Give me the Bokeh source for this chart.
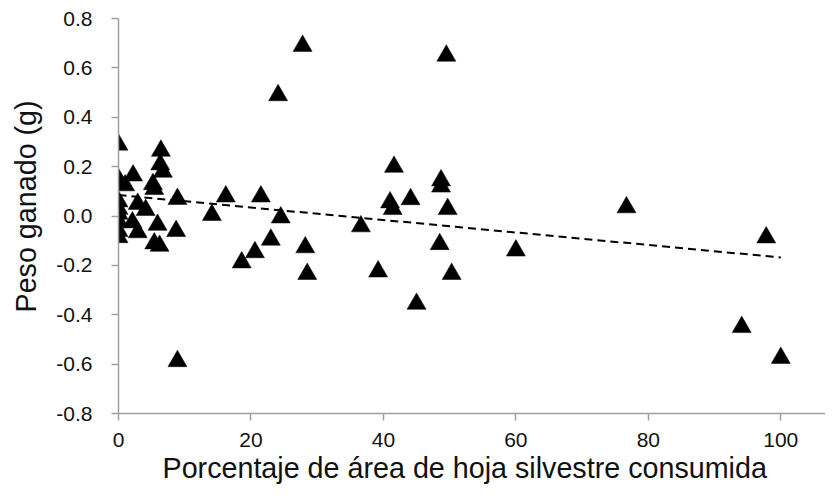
from bokeh.plotting import figure
from bokeh.models import Range1d, FixedTicker, NumeralTickFormatter, ColumnDataSource, Title
from bokeh.transform import dodge
from bokeh.embed import file_html
from bokeh.resources import INLINE

# Percentage of wild leaf area consumed
pct_consumed = [
    0.0, 0.0, 0.3, 0.0, 0.0, 0.0, 0.0, 0.0, 0.0,
    2.2, 1.0, 2.9, 4.1, 2.1, 2.9,
    5.2, 5.4, 6.4, 6.3, 6.7, 5.9, 5.4, 6.2,
    8.9, 8.7, 8.9,
    14.1, 16.2, 18.6, 20.6, 21.5, 23.0, 24.1, 24.5,
    27.8, 28.2, 28.5, 36.6, 39.2, 41.0, 41.4, 41.6,
    44.1, 45.0, 48.5, 48.7, 48.7, 49.5, 49.7, 50.3,
    60.0, 76.7, 94.1, 97.8, 100.0,
]
# Weight gained (g)
weight_gain = [
    0.30, 0.16, 0.14, 0.07, 0.04, 0.02, -0.01, -0.05, -0.075,
    0.175, 0.135, 0.06, 0.035, -0.015, -0.055,
    0.14, 0.12, 0.275, 0.22, 0.19, -0.025, -0.10, -0.11,
    0.08, -0.05, -0.577,
    0.015, 0.09, -0.177, -0.136, 0.09, -0.085, 0.50, 0.005,
    0.70, -0.116, -0.224, -0.031, -0.214, 0.066, 0.039, 0.21,
    0.079, -0.345, -0.103, 0.155, 0.13, 0.66, 0.039, -0.224,
    -0.129, 0.046, -0.439, -0.076, -0.564,
]
# Linear trend line
trend_x = [0, 100]
trend_y = [0.085, -0.168]

x_ticks = [0, 20, 40, 60, 80, 100]
y_ticks = [-0.8, -0.6, -0.4, -0.2, 0.0, 0.2, 0.4, 0.6, 0.8]

x_title = "Porcentaje de área de hoja silvestre consumida"
y_title = "Peso ganado (g)"

FONT = "Liberation Sans"
AXIS_COLOR = "#a0a0a0"
TEXT_COLOR = "#111111"

src = ColumnDataSource(data=dict(x=pct_consumed, y=weight_gain))

p = figure(
    width=825, height=488,
    output_backend="svg", toolbar_location=None,
    x_range=Range1d(0, 106.75), y_range=Range1d(-0.8, 0.8),
    min_border_left=118, min_border_right=0,
    min_border_top=18, min_border_bottom=75,
)
p.outline_line_color = None
p.grid.visible = False
p.background_fill_color = "white"
p.border_fill_color = "white"

p.line(trend_x, trend_y, line_color="black", line_width=2, line_dash="8 5")
# centre the triangle's bounding box on the value (Bokeh centres the centroid)
p.scatter(x="x", y=dodge("y", -0.011, range=p.y_range), source=src,
          marker="triangle", size=19,
          fill_color="black", line_color="black", line_width=0.5)

for ax in (p.xaxis[0], p.yaxis[0]):
    ax.axis_line_color = AXIS_COLOR
    ax.axis_line_width = 1.5
    ax.major_tick_line_color = AXIS_COLOR
    ax.major_tick_line_width = 1.5
    ax.major_tick_out = 7
    ax.major_tick_in = 0
    ax.minor_tick_line_color = None
    ax.major_label_text_font = FONT
    ax.major_label_text_font_size = "21px"
    ax.major_label_text_color = TEXT_COLOR

p.xaxis.ticker = FixedTicker(ticks=x_ticks)
p.yaxis.ticker = FixedTicker(ticks=y_ticks)
p.yaxis.formatter = NumeralTickFormatter(format="0.0")
p.xaxis.major_label_standoff = 12
p.yaxis.major_label_standoff = 19

# axis titles as side-panel titles, offset along the frame
p.add_layout(Title(text=x_title, align="left", offset=44, standoff=0,
                   vertical_align="bottom",
                   text_font=FONT, text_font_size="28.7px",
                   text_font_style="normal", text_color=TEXT_COLOR), "below")
p.add_layout(Title(text=y_title, align="left", offset=101, standoff=19,
                   vertical_align="top",
                   text_font=FONT, text_font_size="28.7px",
                   text_font_style="normal", text_color=TEXT_COLOR), "left")

open("out.html", "w").write(file_html(p, INLINE))
